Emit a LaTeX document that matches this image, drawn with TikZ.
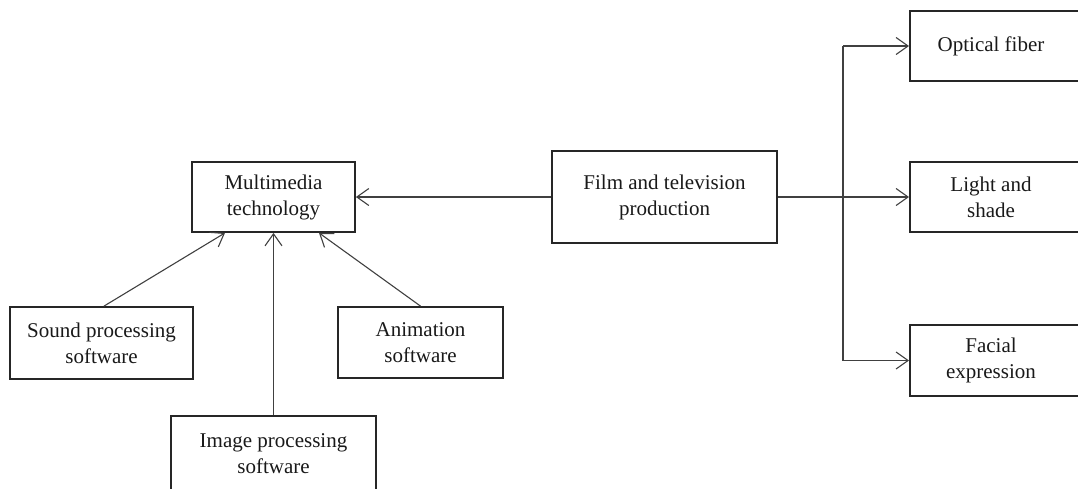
\documentclass[tikz,border=0pt]{standalone}
\usepackage{fontspec}
\setmainfont{Liberation Serif}
\usetikzlibrary{arrows.meta}
\begin{document}
\begin{tikzpicture}[x=1pt,y=-1pt,
  box/.style={draw=black!85, line width=1.8pt, rectangle, inner sep=0pt},
  lbl/.style={align=center, font=\fontsize{21}{26}\selectfont, text=black!90},
  conn/.style={draw=black!75, line width=1.1pt},
  arr/.style={conn, -{Straight Barb[length=12pt,width=17pt,line width=1.1pt]}}]
\useasboundingbox (0,0) rectangle (1078,488);
\clip (0,0) rectangle (1078,488);
% left cluster
\node[box, minimum width=163, minimum height=70] (mm) at (273.5,197) {};
\node[lbl] (mmt) at (mm.center) {Multimedia\\technology};
\node[box, minimum width=183, minimum height=72] (snd) at (101.5,343) {};
\node[lbl] (sndt) at (snd.center) {Sound processing\\software};
\node[box, minimum width=165, minimum height=71] (anim) at (420.5,342.5) {};
\node[lbl] (animt) at (anim.center) {Animation\\software};
\node[box, minimum width=205, minimum height=95, anchor=north] (img) at (273.5,415) {};
\node[lbl] (imgt) at (273.5,454) {Image processing\\software};
% center
\node[box, minimum width=225, minimum height=92] (film) at (664.5,197) {};
\node[lbl] (filmt) at (film.center) {Film and television\\production};
% right cluster (boxes run past the right edge)
\node[box, minimum width=200, minimum height=70, anchor=west] (opt) at (909,46) {};
\node[lbl] (optt) at (991,46) {Optical fiber};
\node[box, minimum width=200, minimum height=70, anchor=west] (light) at (909,197) {};
\node[lbl] (lightt) at (991,197) {Light and\\shade};
\node[box, minimum width=200, minimum height=71, anchor=west] (face) at (909,360.5) {};
\node[lbl] (facet) at (991,360.5) {Facial\\expression};
% connectors
\draw[arr] (film.west) -- (mm.east);
\draw[arr] ([xshift=2.5pt]snd.north) -- ([xshift=-48.5pt]mm.south);
\draw[arr] (img.north) -- (mm.south);
\draw[arr] (anim.north) -- ([xshift=45.5pt]mm.south);
\path (opt.west) ++(-66,0) coordinate (tt);
\path (face.west) ++(-66,0) coordinate (tb);
\draw[arr] (film.east) -- (light.west);
\draw[conn] (tt) -- (tb);
\draw[arr] (tt) -- (opt.west);
\draw[arr] (tb) -- (face.west);
\end{tikzpicture}
\end{document}
